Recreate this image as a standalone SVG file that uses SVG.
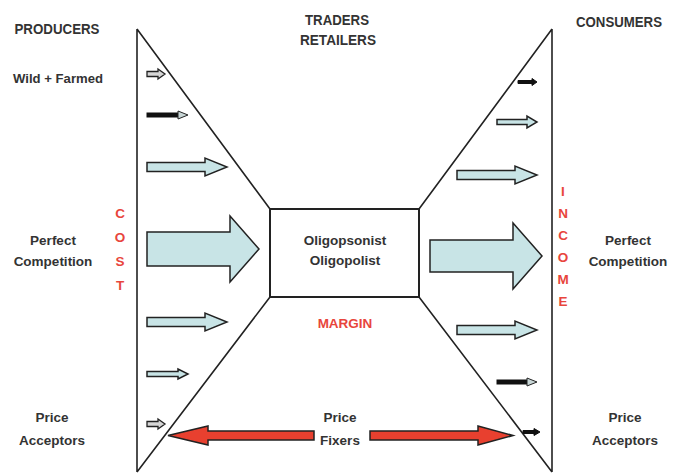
<svg xmlns="http://www.w3.org/2000/svg" width="680" height="475" viewBox="0 0 680 475">
<style>
.t{font-family:"Liberation Sans",Arial,sans-serif;font-weight:bold;fill:#333;text-anchor:middle}
.h{font-size:14px}
.n{font-size:13.5px}
.r{font-family:"Liberation Sans",Arial,sans-serif;font-weight:bold;fill:#e8453c;text-anchor:middle;font-size:13.5px}
.ln{stroke:#222;stroke-width:1.6;fill:none}
.blue{fill:#c8e4e6;stroke:#222;stroke-width:1.5;stroke-linejoin:miter}
.gray{fill:#d6d6d6;stroke:#222;stroke-width:1.3}
.blk{fill:#111;stroke:#111;stroke-width:1}
.head{fill:#c8d6d6;stroke:#222;stroke-width:1}
.red{fill:#e8402f;stroke:#222;stroke-width:1.5}
</style>
<rect width="680" height="475" fill="#fff"/>
<g id="connectors">
<path class="ln" d="M137,29 L137,472 M137,29 L270,209 M270,297 L137,472"/>
<path class="ln" d="M552,29 L552,472 M552,29 L419,209 M419,297 L552,472"/>
</g>
<g id="box">
<rect x="270" y="209" width="149" height="88" fill="#fff" stroke="#222" stroke-width="2"/>
<text class="t n" x="345" y="245">Oligopsonist</text>
<text class="t n" x="345" y="265">Oligopolist</text>
</g>
<g id="labels">
<text class="t h" x="57" y="34" textLength="85" lengthAdjust="spacingAndGlyphs">PRODUCERS</text>
<text class="t n" x="58" y="83" textLength="90" lengthAdjust="spacingAndGlyphs">Wild + Farmed</text>
<text class="t h" x="337" y="25" textLength="64" lengthAdjust="spacingAndGlyphs">TRADERS</text>
<text class="t h" x="338" y="45" textLength="76" lengthAdjust="spacingAndGlyphs">RETAILERS</text>
<text class="t h" x="619" y="27" textLength="86" lengthAdjust="spacingAndGlyphs">CONSUMERS</text>
<text class="t n" x="53" y="245">Perfect</text>
<text class="t n" x="53" y="266">Competition</text>
<text class="t n" x="628" y="245">Perfect</text>
<text class="t n" x="628" y="266">Competition</text>
<text class="t n" x="52" y="422">Price</text>
<text class="t n" x="52" y="445">Acceptors</text>
<text class="t n" x="625" y="422">Price</text>
<text class="t n" x="625" y="445">Acceptors</text>
<text class="t n" x="340" y="422">Price</text>
<text class="t n" x="340" y="445">Fixers</text>
<text class="r" x="345" y="328">MARGIN</text>
<text class="r" x="120" y="218">C</text>
<text class="r" x="120" y="242">O</text>
<text class="r" x="120" y="266">S</text>
<text class="r" x="120" y="290">T</text>
<text class="r" x="563" y="196">I</text>
<text class="r" x="563" y="218">N</text>
<text class="r" x="563" y="240">C</text>
<text class="r" x="563" y="262">O</text>
<text class="r" x="563" y="284">M</text>
<text class="r" x="563" y="306">E</text>
</g>
<g id="left-arrows">
<polygon class="gray" points="147,71.5 158,71.5 158,69 165,74 158,79 158,76.5 147,76.5"/>
<rect class="blk" x="147" y="113" width="32" height="4"/>
<polygon class="head" points="178,111 188,115 178,119"/>
<polygon class="blue" points="147,162.5 205,162.5 205,158 227,167 205,176 205,171.5 147,171.5"/>
<polygon class="blue" points="147,232 230,232 230,216 259,249 230,282 230,266 147,266"/>
<polygon class="blue" points="147,317.5 205,317.5 205,313 227,322 205,331 205,326.5 147,326.5"/>
<polygon class="blue" points="147,371.5 178,371.5 178,369 188,374 178,379 178,376.5 147,376.5"/>
<polygon class="gray" points="147,421.5 158,421.5 158,419 165,424 158,429 158,426.5 147,426.5"/>
</g>
<g id="right-arrows">
<polygon class="blk" points="518,80.5 532,80.5 532,78.5 537,82 532,85.5 532,83.5 518,83.5"/>
<polygon class="blue" points="497,119.5 527,119.5 527,116 537,122 527,128 527,124.5 497,124.5"/>
<polygon class="blue" points="457,170.5 515,170.5 515,166 537,175 515,184 515,179.5 457,179.5"/>
<polygon class="blue" points="430,240 513,240 513,223 542,256 513,289 513,272 430,272"/>
<polygon class="blue" points="457,325.5 515,325.5 515,321 537,330 515,339 515,334.5 457,334.5"/>
<rect class="blk" x="497" y="380" width="31" height="4"/>
<polygon class="head" points="527,378 537,382 527,386"/>
<polygon class="blk" points="523,430.5 534,430.5 534,428.5 540,432 534,435.5 534,433.5 523,433.5"/>
</g>
<g id="price-fixer-arrows">
<polygon class="red" points="314,431 208,431 208,426 168,435.5 208,445 208,440 314,440"/>
<polygon class="red" points="370,431 478,431 478,426 513,435.5 478,445 478,440 370,440"/>
</g>
</svg>
